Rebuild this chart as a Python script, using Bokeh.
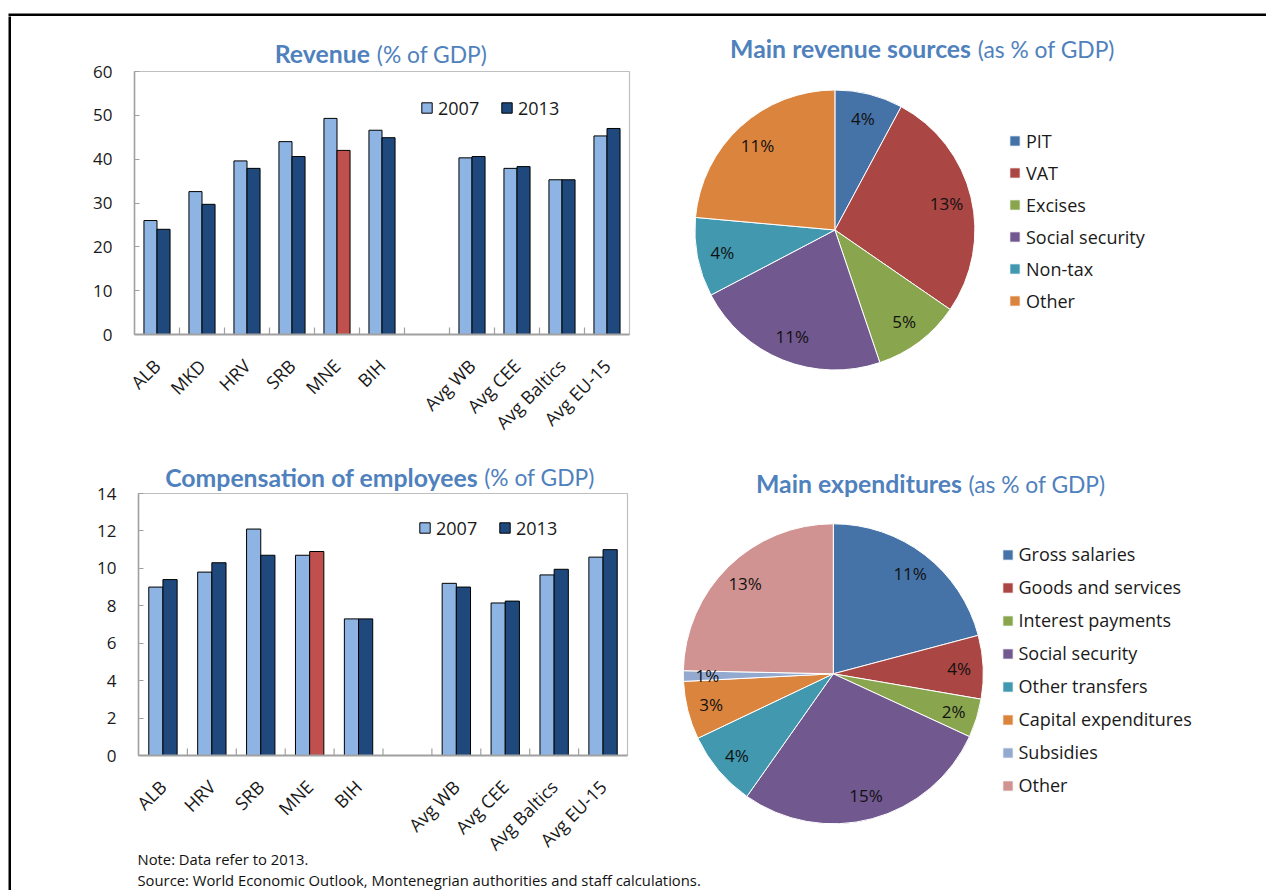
from math import pi
import numpy as np
from bokeh.plotting import figure
from bokeh.models import (FactorRange, Range1d, ColumnDataSource, Legend,
                          LegendItem, SingleIntervalTicker)
from bokeh.transform import dodge
from bokeh.layouts import row, column
from bokeh.embed import file_html
from bokeh.resources import INLINE
from bokeh.core.properties import value
from bokeh.core.validation import silence
from bokeh.core.validation.warnings import MISSING_RENDERERS

silence(MISSING_RENDERERS, True)

# ---------------- data ----------------
rev_countries = ["ALB", "MKD", "HRV", "SRB", "MNE", "BIH"]
rev_groups = ["Avg WB", "Avg CEE", "Avg Baltics", "Avg EU-15"]
rev_2007 = [26.0, 32.6, 39.6, 44.0, 49.3, 46.6, 40.3, 37.9, 35.3, 45.3]
rev_2013 = [24.0, 29.7, 37.9, 40.6, 42.0, 44.9, 40.6, 38.3, 35.3, 47.0]
rev_yticks = [0, 10, 20, 30, 40, 50, 60]

comp_countries = ["ALB", "HRV", "SRB", "MNE", "BIH"]
comp_groups = ["Avg WB", "Avg CEE", "Avg Baltics", "Avg EU-15"]
comp_2007 = [9.0, 9.8, 12.1, 10.7, 7.3, 9.2, 8.15, 9.65, 10.6]
comp_2013 = [9.4, 10.3, 10.7, 10.9, 7.3, 9.0, 8.25, 9.95, 11.0]
comp_yticks = [0, 2, 4, 6, 8, 10, 12, 14]

series_names = ["2007", "2013"]
highlight = "MNE"

rev_src_names = ["PIT", "VAT", "Excises", "Social security", "Non-tax", "Other"]
rev_src_values = [3.7, 12.6, 4.8, 10.6, 4.3, 11.1]

exp_names = ["Gross salaries", "Goods and services", "Interest payments",
             "Social security", "Other transfers", "Capital expenditures",
             "Subsidies", "Other"]
exp_values = [11.0, 3.6, 2.2, 14.7, 4.3, 3.3, 0.6, 13.0]

note_lines = ["Note: Data refer to 2013.",
              "Source: World Economic Outlook, Montenegrian authorities and staff calculations."]

# ---------------- style ----------------
LIGHT = "#8DB4E2"
NAVY = "#1F497D"
RED = "#C0504D"
AXIS = "#A0A0A0"
FRAME = "#BFBFBF"
TITLE_C = "#4F81BD"
TFONT = "Lato"
FONT = "Open Sans"
TSIZE_B = "24.8px"
TSIZE_R = "22.8px"
PIE_COLORS = ["#4572A7", "#AA4643", "#89A54E", "#71588F", "#4198AF",
              "#DB843D", "#93A9CF", "#D19392"]


def canvas(W, H, **kw):
    """A borderless figure whose frame is the whole canvas (1 unit = 1 px)."""
    p = figure(width=W, height=H, x_range=Range1d(0, W), y_range=Range1d(0, H),
               min_border_left=0, min_border_right=0, min_border_top=0,
               min_border_bottom=0, x_axis_location=None, y_axis_location=None,
               output_backend="svg", toolbar_location=None,
               outline_line_color=None, frame_align=False, **kw)
    p.grid.visible = False
    return p


def draw_title(p, H, xb, xr, yc, bold, rest):
    p.text(x=[xb], y=[H - yc], text=[bold], text_align="right",
           text_baseline="middle", text_font=value(TFONT), text_font_style="bold",
           text_font_size=TSIZE_B, text_color=TITLE_C)
    p.text(x=[xr], y=[H - yc], text=[rest], text_align="left",
           text_baseline="middle", text_font=value(TFONT),
           text_font_size=TSIZE_R, text_color=TITLE_C)


def title_strip(W, H, xb, xr, yc, bold, rest):
    p = canvas(W, H)
    draw_title(p, H, xb, xr, yc, bold, rest)
    return p


def bar_chart(countries, groups, v07, v13, yticks, W, H, bl, br, bt, bb, leg_loc):
    cats = countries + groups
    factors = countries + [" "] + groups
    p = figure(width=W, height=H, x_range=FactorRange(factors=factors),
               y_range=Range1d(yticks[0], yticks[-1]), output_backend="svg",
               toolbar_location=None, min_border_left=bl, min_border_right=br,
               min_border_top=bt, min_border_bottom=bb, frame_align=False,
               border_fill_alpha=0, outline_line_color=FRAME, outline_line_width=1.2)
    p.xgrid.visible = False
    p.ygrid.visible = False
    c13 = [RED if c == highlight else NAVY for c in cats]
    src = ColumnDataSource(dict(cat=cats, v07=v07, v13=v13, c13=c13))
    r07 = p.vbar(x=dodge("cat", -0.145, range=p.x_range), top="v07", width=0.29,
                 source=src, fill_color=LIGHT, line_color="black", line_width=1)
    r13 = p.vbar(x=dodge("cat", 0.145, range=p.x_range), top="v13", width=0.29,
                 source=src, fill_color="c13", line_color="black", line_width=1)
    # tick marks between categories, pointing into the plot
    p.ray(x=list(range(1, len(factors))), y=0, length=7, length_units="screen",
          angle=pi / 2, line_color=AXIS, line_width=1.2)

    ya = p.yaxis[0]
    ya.ticker = SingleIntervalTicker(interval=yticks[1] - yticks[0], num_minor_ticks=0)
    ya.major_tick_in = 5
    ya.major_tick_out = 0
    ya.minor_tick_in = 0
    ya.minor_tick_out = 0
    ya.axis_line_color = AXIS
    ya.axis_line_width = 1.5
    ya.major_tick_line_color = AXIS
    ya.major_label_standoff = 22
    ya.major_label_text_font = FONT
    ya.major_label_text_font_size = "17px"
    ya.major_label_text_color = "#1a1a1a"

    xa = p.xaxis[0]
    xa.major_label_orientation = pi / 4
    xa.major_tick_in = 0
    xa.major_tick_out = 0
    xa.axis_line_color = AXIS
    xa.axis_line_width = 2
    xa.major_label_standoff = 28
    xa.major_label_text_font = FONT
    xa.major_label_text_font_size = "18px"
    xa.major_label_text_color = "#1a1a1a"

    leg = Legend(items=[LegendItem(label=value(series_names[0]), renderers=[r07], index=0),
                        LegendItem(label=value(series_names[1]), renderers=[r13], index=0)],
                 orientation="horizontal", location=leg_loc, glyph_width=13,
                 glyph_height=13, label_standoff=5, label_width=42, label_height=25,
                 spacing=20, padding=0, margin=0, border_line_color=None,
                 background_fill_alpha=0, label_text_font=FONT,
                 label_text_font_size="18px", label_text_color="#1a1a1a")
    p.add_layout(leg)
    return p


def pie_chart(names, vals, W, H, cx, cy_top, r, k, bold, rest, tb, tr, ty_top,
              leg_x, leg_last_top, leg_h, leg_sp):
    p = canvas(W, H)
    cy = H - cy_top
    v = np.array(vals, dtype=float)
    frac = v / v.sum()
    cum = np.cumsum(frac)
    start = pi / 2 - 2 * pi * (cum - frac)
    end = pi / 2 - 2 * pi * cum
    mid = (start + end) / 2
    src = ColumnDataSource(dict(
        name=names, start=start, end=end, color=PIE_COLORS[:len(names)],
        lx=cx + k * r * np.cos(mid), ly=cy + k * r * np.sin(mid),
        lab=["%d%%" % int(round(x)) for x in vals]))
    wr = p.wedge(x=cx, y=cy, radius=r, start_angle="start", end_angle="end",
                 direction="clock", fill_color="color", line_color="white",
                 line_width=1, source=src)
    p.text(x="lx", y="ly", text="lab", source=src, text_align="center",
           text_baseline="middle", text_font=value(FONT), text_font_size="17px",
           text_color="#111111")
    draw_title(p, H, tb, tr, ty_top, bold, rest)
    leg = Legend(items=[LegendItem(label=value(n), renderers=[wr], index=i)
                        for i, n in enumerate(names)],
                 orientation="vertical",
                 location=(leg_x, H - leg_last_top - leg_h / 2),
                 glyph_width=13, glyph_height=13, label_standoff=5,
                 label_height=leg_h, spacing=leg_sp, padding=0, margin=0,
                 border_line_color=None, background_fill_alpha=0,
                 label_text_font=FONT, label_text_font_size="18px",
                 label_text_color="#1a1a1a")
    p.add_layout(leg)
    return p


# ---------------- layout (page pixels) ----------------
LW, RW = 629, 626
OVER = 24  # bar figures slide up (transparent border) under their title strips
BT = 16    # top border of bar figures, room for the top tick label

rev_title = title_strip(LW, 63, 358.4, 365.3, 37.3, "Revenue", "(% of GDP)")
p_rev = bar_chart(rev_countries, rev_groups, rev_2007, rev_2013, rev_yticks,
                  LW, 391, 123, 11, BT, 112, (286, 214))
p_rev.margin = (-OVER, 0, 0, 0)
pie_rev = pie_chart(rev_src_names, rev_src_values, RW, 430, 194.4, 213.5, 140, 0.82,
                    "Main revenue sources", "(as % of GDP)", 330.5, 337.3, 32.3,
                    368, 284.7, 25, 7)

comp_title = title_strip(LW, 55, 466.6, 472.7, 30.7,
                         "Compensation of employees", "(% of GDP)")
p_comp = bar_chart(comp_countries, comp_groups, comp_2007, comp_2013, comp_yticks,
                   LW, 389, 127, 13, BT, 110, (280, 215))
p_comp.margin = (-OVER, 0, 0, 0)
pie_exp = pie_chart(exp_names, exp_values, RW, 420, 192.8, 227.3, 150, 0.84,
                    "Main expenditures", "(as % of GDP)", 321.4, 328, 37.3,
                    360.5, 339, 25, 8)

notes = canvas(1255, 42, border_fill_alpha=0, background_fill_alpha=0)
notes.margin = (-18, 0, 0, 0)
notes.text(x=[126, 126], y=[32, 11], text=note_lines, text_align="left",
           text_baseline="middle", text_font=value(FONT), text_font_size="14.8px",
           text_color="#111111")

top_strip = figure(width=1266, height=16, min_border_top=13, min_border_bottom=0,
                   min_border_left=8, min_border_right=0, x_axis_location=None,
                   y_axis_location=None, background_fill_color="black",
                   border_fill_color="white", outline_line_color=None,
                   toolbar_location=None, output_backend="svg", frame_align=False)
top_strip.grid.visible = False
left_strip = figure(width=11, height=874, min_border_top=0, min_border_bottom=0,
                    min_border_left=8, min_border_right=0, x_axis_location=None,
                    y_axis_location=None, background_fill_color="black",
                    border_fill_color="white", outline_line_color=None,
                    toolbar_location=None, output_backend="svg", frame_align=False)
left_strip.grid.visible = False

content = column(row(column(rev_title, p_rev), pie_rev),
                 row(column(comp_title, p_comp), pie_exp),
                 notes)
layout = column(top_strip, row(left_strip, content))

open("out.html", "w").write(file_html(layout, INLINE))
